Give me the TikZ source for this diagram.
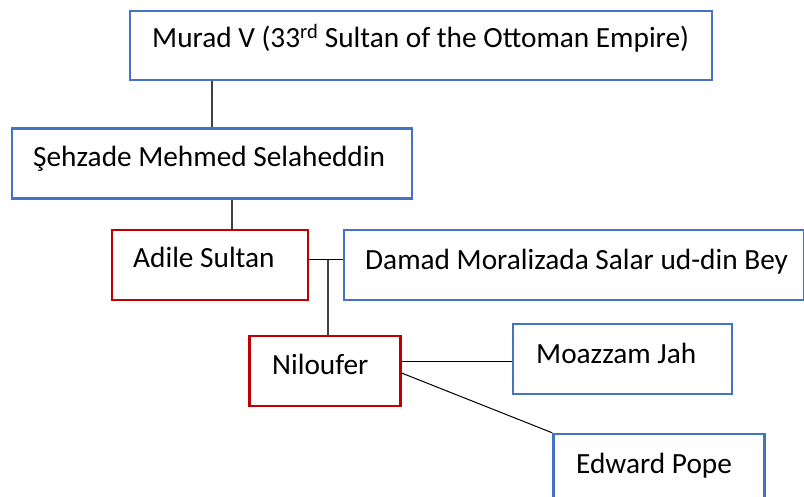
\documentclass[tikz,border=0pt]{standalone}
\usepackage{fontspec}
\setmainfont{Carlito}
\definecolor{bblue}{HTML}{4472C4}
\definecolor{bred}{HTML}{C00000}
\definecolor{lgray}{HTML}{404040}
\begin{document}
\begin{tikzpicture}[x=1pt,y=-1pt,
  bluebox/.style={draw=bblue,line width=2.3pt,inner sep=0pt,fill=white},
  redbox/.style={draw=bred,line width=2.1pt,inner sep=0pt,fill=white},
  txt/.style={anchor=base west,inner sep=0pt,font=\fontsize{29.3}{33}\selectfont},
  conn/.style={draw=lgray,line width=1.3pt},
  thin/.style={draw=black,line width=1pt}]
\useasboundingbox (0,0) rectangle (804,497);
\clip (0,0) rectangle (804,497);
% boxes
\node[bluebox,minimum width=582pt,minimum height=69pt] (murad) at (421,45.5) {};
\node[bluebox,minimum width=400pt,minimum height=70pt] (sehzade) at (212,163.5) {};
\node[redbox,minimum width=196pt,minimum height=70pt] (adile) at (210,265) {};
\node[bluebox,minimum width=460pt,minimum height=70pt] (damad) at (574,265) {};
\node[redbox,minimum width=151pt,minimum height=70pt] (niloufer) at (325,371) {};
\node[bluebox,minimum width=219pt,minimum height=70pt] (moazzam) at (622.5,359) {};
\node[bluebox,minimum width=211pt,minimum height=72pt] (edward) at (659,470) {};
% texts
\node[txt] (tmurad) at (152,48) {Murad V (33\textsuperscript{rd} Sultan of the Ottoman Empire)};
\node[txt] (tsehzade) at (33,167) {Şehzade Mehmed Selaheddin};
\node[txt] (tadile) at (133,268) {Adile Sultan};
\node[txt] (tdamad) at (365,270) {Damad Moralizada Salar ud-din Bey};
\node[txt] (tniloufer) at (272,374) {Niloufer};
\node[txt] (tmoazzam) at (536,363) {Moazzam Jah};
\node[txt] (tedward) at (576,473) {Edward Pope};
% connectors
\coordinate (c1) at (212,0);
\coordinate (c2) at (232,0);
\coordinate (c3) at (328,260);
\coordinate (c4) at (0,362);
\coordinate (c5) at (0,373);
\draw[conn] (c1 |- murad.south) -- (c1 |- sehzade.north);
\draw[conn] (c2 |- sehzade.south) -- (c2 |- adile.north);
\draw[thin] (adile.east |- c3) -- (damad.west |- c3);
\draw[conn] (c3) -- (c3 |- niloufer.north);
\draw[thin] (niloufer.east |- c4) -- (moazzam.west |- c4);
\draw[thin] (niloufer.east |- c5) -- (edward.north west);
\end{tikzpicture}
\end{document}
